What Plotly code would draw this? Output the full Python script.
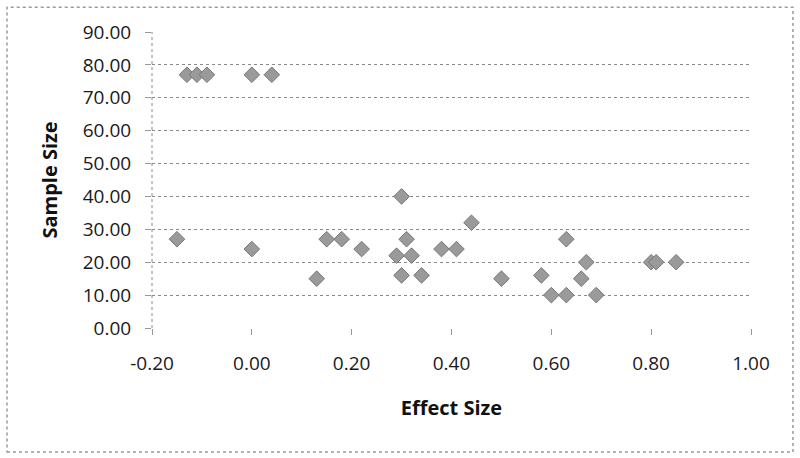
import plotly.graph_objects as go

effect_size = [-0.13, -0.11, -0.09, 0.00, 0.04,
               -0.15, 0.00, 0.13, 0.15, 0.18, 0.22, 0.29, 0.30, 0.30, 0.31,
               0.32, 0.34, 0.38, 0.41, 0.44, 0.50, 0.58, 0.60, 0.63, 0.63,
               0.66, 0.67, 0.69, 0.80, 0.81, 0.85]
sample_size = [77, 77, 77, 77, 77,
               27, 24, 15, 27, 27, 24, 22, 40, 16, 27,
               22, 16, 24, 24, 32, 15, 16, 10, 27, 10,
               15, 20, 10, 20, 20, 20]

x_ticks = [-0.2, 0.0, 0.2, 0.4, 0.6, 0.8, 1.0]
x_tick_labels = ["-0.20", "0.00", "0.20", "0.40", "0.60", "0.80", "1.00"]
y_ticks = [0, 10, 20, 30, 40, 50, 60, 70, 80, 90]
y_tick_labels = ["0.00", "10.00", "20.00", "30.00", "40.00", "50.00",
                 "60.00", "70.00", "80.00", "90.00"]

tick_font = dict(family="Open Sans", size=19, color="#1a1a1a")
title_font = dict(family="Open Sans", size=20, color="#111111", weight="bold")

fig = go.Figure()
fig.add_trace(go.Scatter(
    x=effect_size, y=sample_size, mode="markers",
    marker=dict(symbol="diamond", size=12, color="#9a9a9a",
                line=dict(color="#777777", width=1)),
    showlegend=False, hoverinfo="x+y"))

fig.update_layout(
    width=800, height=458,
    margin=dict(l=152, r=49, t=32, b=130),
    paper_bgcolor="white", plot_bgcolor="white",
    xaxis=dict(range=[-0.2, 1.0], tickvals=x_ticks, ticktext=x_tick_labels,
               showgrid=False, zeroline=False, showline=False,
               ticks="outside", ticklen=6, tickcolor="#999999",
               tickfont=tick_font, ticklabelstandoff=12,
               title=dict(text="Effect Size", font=title_font, standoff=26)),
    yaxis=dict(range=[0, 90], tickvals=y_ticks, ticktext=y_tick_labels,
               showgrid=True, gridcolor="#8a8a8a", griddash="dot", gridwidth=1,
               zeroline=False, showline=False,
               ticks="outside", ticklen=6, tickcolor="#999999",
               tickfont=tick_font, ticklabelstandoff=10,
               title=dict(text="Sample Size", font=title_font, standoff=19)),
    shapes=[
        dict(type="line", xref="paper", yref="paper", x0=0, x1=0, y0=0, y1=1,
             line=dict(color="#8a8a8a", width=1, dash="dot"), layer="below"),
        dict(type="rect", xref="paper", yref="paper",
             x0=-0.242, x1=1.070, y0=-0.419, y1=1.084,
             line=dict(color="#999999", width=1.5, dash="dot")),
    ],
)

fig.write_html("out.html",
               config={"displayModeBar": False},
               post_script="document.body.style.margin='0';document.body.style.overflow='hidden';")
